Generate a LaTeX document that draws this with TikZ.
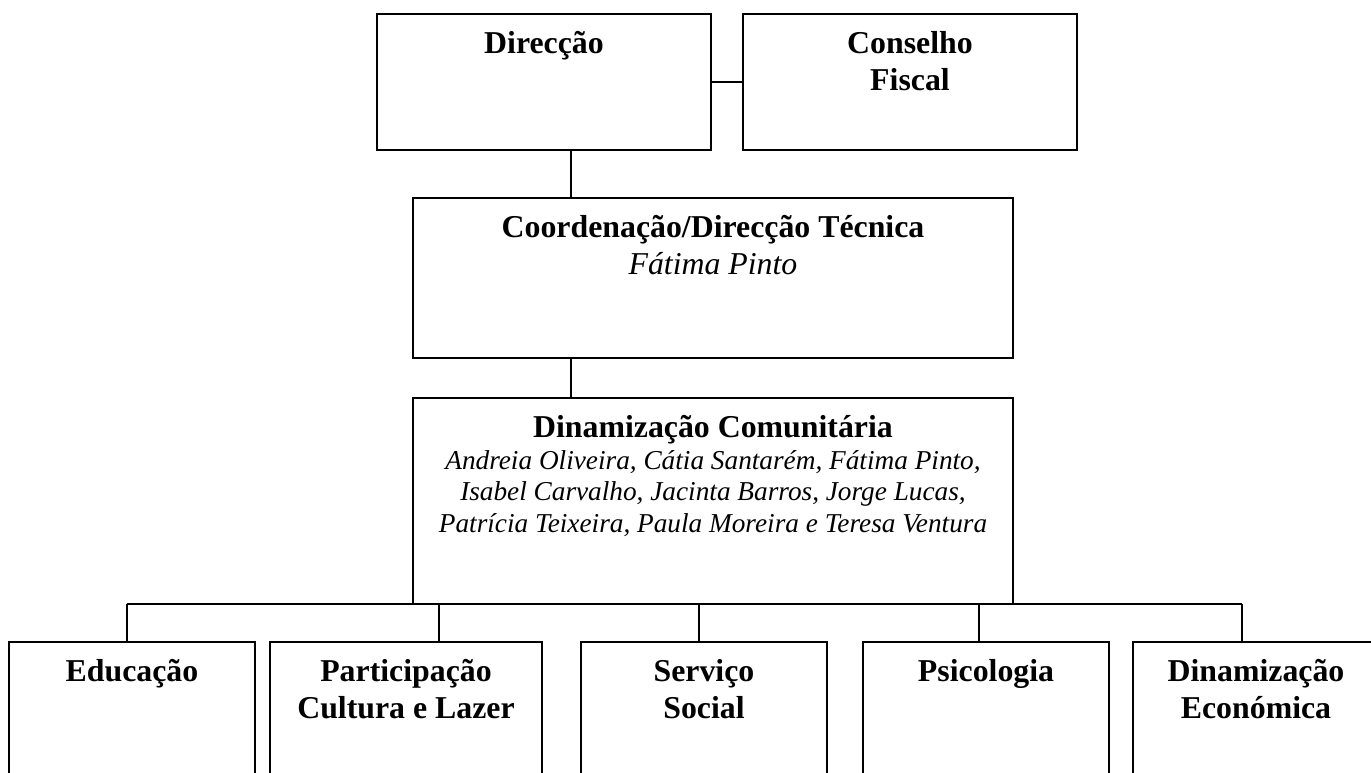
\documentclass[tikz,border=0pt]{standalone}
\usepackage{fontspec}
\setmainfont{Liberation Serif}
\usetikzlibrary{fit}

\tikzset{
  unit/.style={draw, line width=0.85pt, inner sep=0pt},
  title/.style={label={[anchor=base, yshift=-18pt, inner sep=0pt, text width=260pt, align=flush center,
    font=\fontsize{14}{16.1}\selectfont\bfseries]north:{#1}}},
}

\begin{document}
\begin{tikzpicture}[x=0.44pt, y=-0.44pt, line width=0.85pt]
    \useasboundingbox (0,0) rectangle (1371,773);
    \clip (0,0) rectangle (1371,773);
    % upper levels
    \node [unit, fit={(377,14) (711,150)}, title={Direcção}] (dir) {};
    \node [unit, fit={(743,14) (1077,150)}, title={Conselho\\Fiscal}] (cf) {};
    \node [unit, fit={(413,198) (1013,358)},
      title={Coordenação/Direcção Técnica\\ \mdseries\itshape Fátima Pinto}] (coord) {};
    \node [unit, fit={(413,398) (1013,604)},
      title={Dinamização Comunitária\\ \mdseries\itshape\fontsize{12}{13.8}\selectfont
        Andreia Oliveira, Cátia Santarém, Fátima Pinto,\\
        Isabel Carvalho, Jacinta Barros, Jorge Lucas,\\
        Patrícia Teixeira, Paula Moreira e Teresa Ventura\endgraf}] (dc) {};
    % areas
    \node [unit, fit={(9,642) (255,800)}, title={Educação}] (educ) {};
    \node [unit, fit={(270,642) (542,800)}, title={Participação\\Cultura e Lazer}] (part) {};
    \node [unit, fit={(581,642) (827,800)}, title={Serviço\\Social}] (serv) {};
    \node [unit, fit={(863,642) (1109,800)}, title={Psicologia}] (psic) {};
    \node [unit, fit={(1133,642) (1379,800)}, title={Dinamização\\Económica}] (deco) {};
    % links
    \coordinate (spine) at (571,0);
    \draw (dir.east) to (cf.west);
    \draw (dir.south -| spine) to (coord.north -| spine);
    \draw (coord.south -| spine) to (dc.north -| spine);
    \foreach \b/\x in {educ/127, part/439, serv/699, psic/979, deco/1242} {
      \coordinate (t\b) at (\x,604);
      \draw (t\b) to (t\b |- \b.north);
    }
    \draw (teduc) to (tdeco);
\end{tikzpicture}
\end{document}
